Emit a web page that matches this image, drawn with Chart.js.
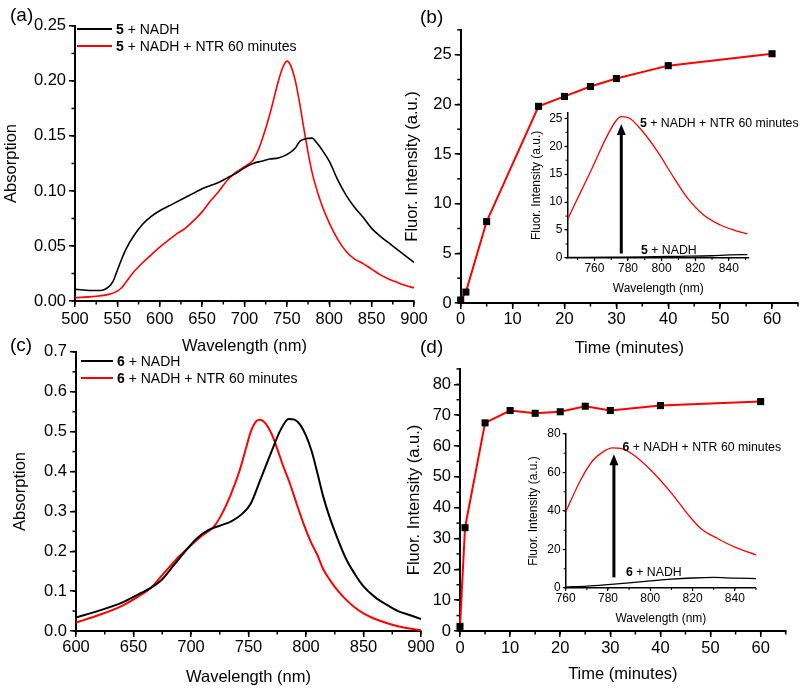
<!DOCTYPE html>
<html>
<head>
<meta charset="utf-8">
<script src="https://cdn.jsdelivr.net/npm/chart.js@4.4.0/dist/chart.umd.min.js"></script>
<style>
  body { margin: 0; background: #fff; }
  #fig { position: relative; width: 804px; height: 689px; overflow: hidden;
         font-family: 'Liberation Sans', Arial, sans-serif; color: #000; }
  #fig canvas { position: absolute; }
  .txt { position: absolute; white-space: nowrap; line-height: 1; }
  .ln { position: absolute; height: 0; border-top: 2px solid; }
</style>
</head>
<body>
<div id="fig"></div>
<script>
// --- DATA ---
// (a) absorption of 5
const wlA5 = [500, 510, 520, 530, 540, 545, 550, 555, 560, 570, 580, 590, 600, 615, 630, 640, 650, 660, 670, 680, 690, 700, 710, 720, 730, 740, 750, 760, 765, 770, 780, 785, 790, 800, 810, 820, 830, 840, 850, 860, 870, 880, 890, 900];
const absA5 = [0.0106, 0.010, 0.0095, 0.0095, 0.013, 0.018, 0.028, 0.038, 0.047, 0.060, 0.070, 0.077, 0.082, 0.088, 0.094, 0.098, 0.102, 0.105, 0.108, 0.112, 0.116, 0.121, 0.125, 0.127, 0.129, 0.130, 0.133, 0.139, 0.145, 0.147, 0.148, 0.144, 0.139, 0.127, 0.110, 0.096, 0.085, 0.076, 0.066, 0.059, 0.053, 0.047, 0.041, 0.035];
const wlA5ntr = [500, 520, 540, 550, 555, 560, 570, 580, 590, 600, 610, 620, 630, 640, 650, 660, 670, 680, 690, 700, 710, 715, 720, 730, 740, 745, 750, 755, 760, 765, 770, 775, 780, 790, 800, 810, 820, 830, 840, 850, 860, 870, 880, 890, 900];
const absA5ntr = [0.003, 0.004, 0.006, 0.009, 0.012, 0.017, 0.027, 0.035, 0.042, 0.049, 0.055, 0.061, 0.066, 0.073, 0.081, 0.091, 0.100, 0.110, 0.117, 0.122, 0.128, 0.135, 0.145, 0.170, 0.200, 0.212, 0.218, 0.213, 0.200, 0.180, 0.157, 0.135, 0.116, 0.090, 0.071, 0.056, 0.045, 0.038, 0.034, 0.029, 0.024, 0.020, 0.017, 0.014, 0.012];

// (b) fluorescence of 5 vs time
const timeB = [0, 1, 5, 15, 20, 25, 30, 40, 60];
const fluorB = [0.3, 1.1, 8.2, 19.8, 20.8, 21.8, 22.6, 23.9, 25.1];
// (b) inset spectra
const wlB5ntr = [744, 751, 759, 767, 773, 776, 781, 788, 797, 807, 815, 825, 835, 843, 851];
const emB5ntr = [6.9, 11.3, 16.3, 21.5, 24.6, 25.3, 25.0, 22.9, 19.3, 14.5, 10.9, 7.7, 5.9, 5.0, 4.3];
const wlB5 = [744, 770, 790, 810, 830, 840, 851];
const emB5 = [0.1, 0.15, 0.2, 0.3, 0.4, 0.55, 0.6];

// (c) absorption of 6
const wlC6 = [600, 620, 640, 655, 665, 675, 685, 695, 705, 715, 725, 735, 745, 752, 760, 770, 778, 785, 790, 795, 800, 805, 810, 815, 820, 827, 835, 842, 850, 860, 870, 880, 890, 900];
const absC6 = [0.034, 0.051, 0.071, 0.093, 0.108, 0.130, 0.165, 0.200, 0.232, 0.253, 0.264, 0.275, 0.295, 0.320, 0.377, 0.450, 0.505, 0.532, 0.530, 0.517, 0.490, 0.450, 0.395, 0.337, 0.290, 0.235, 0.180, 0.145, 0.112, 0.085, 0.066, 0.050, 0.040, 0.030];
const wlC6ntr = [600, 620, 640, 655, 665, 675, 690, 700, 710, 720, 728, 735, 742, 748, 752, 757, 760, 765, 770, 775, 780, 786, 792, 798, 804, 810, 815, 821, 828, 835, 842, 850, 860, 870, 880, 890, 900];
const absC6ntr = [0.021, 0.040, 0.063, 0.088, 0.108, 0.140, 0.188, 0.215, 0.240, 0.262, 0.300, 0.345, 0.400, 0.460, 0.500, 0.527, 0.530, 0.520, 0.495, 0.457, 0.415, 0.370, 0.318, 0.268, 0.225, 0.190, 0.155, 0.127, 0.100, 0.078, 0.060, 0.044, 0.030, 0.020, 0.012, 0.006, 0.002];

// (d) fluorescence of 6 vs time
const timeD = [0, 1, 5, 10, 15, 20, 25, 30, 40, 60];
const fluorD = [1.5, 33.5, 67.5, 71.5, 70.6, 71.1, 72.9, 71.5, 73.1, 74.4];
// (d) inset spectra
const wlD6ntr = [760, 767, 773, 778, 782, 786, 792, 801, 810, 818, 824, 832, 840, 850];
const emD6ntr = [39.5, 56, 66.5, 71, 72.8, 72.5, 69.2, 60.4, 49.3, 38, 30.8, 25.6, 21.2, 17.2];
const wlD6 = [760, 770, 780, 790, 800, 810, 820, 830, 840, 850];
const emD6 = [0.5, 1.0, 1.8, 2.7, 3.7, 4.6, 5.2, 5.5, 5.1, 4.9];

const RED = '#ff0000';
const fig = document.getElementById('fig');
Chart.defaults.font.family = "'Liberation Sans', Arial, sans-serif";
Chart.defaults.color = '#000';

function pts(xs, ys) { return xs.map((x, i) => ({ x: x, y: ys[i] })); }

// short unlabelled ticks between the major ones
const minorTicks = {
  id: 'minorTicks',
  afterDraw(chart, args, o) {
    const { ctx, chartArea: a } = chart;
    ctx.save();
    ctx.strokeStyle = '#000';
    ctx.lineWidth = o.lw || 1.5;
    ['x', 'y'].forEach(id => {
      const step = o[id];
      if (!step) return;
      const s = chart.scales[id];
      const n = Math.floor((s.max - s.min) / step + 1e-6);
      const start = Math.ceil(s.min / step - 1e-6) * step;
      for (let i = 0; i <= n; i++) {
        const v = start + i * step;
        if (v > s.max + 1e-9) break;
        const p = s.getPixelForValue(v);
        ctx.beginPath();
        if (id === 'x') { ctx.moveTo(p, a.bottom); ctx.lineTo(p, a.bottom + o.len); }
        else { ctx.moveTo(a.left, p); ctx.lineTo(a.left - o.len, p); }
        ctx.stroke();
      }
    });
    ctx.restore();
  }
};

// vertical arrow inside the insets
const arrow = {
  id: 'arrow',
  afterDatasetsDraw(chart, args, o) {
    if (o.x == null) return;
    const ctx = chart.ctx;
    const x = chart.scales.x.getPixelForValue(o.x);
    const y0 = chart.scales.y.getPixelForValue(o.from);
    const y1 = chart.scales.y.getPixelForValue(o.to);
    ctx.save();
    ctx.strokeStyle = '#000';
    ctx.fillStyle = '#000';
    ctx.lineWidth = 3;
    ctx.beginPath();
    ctx.moveTo(x, y0);
    ctx.lineTo(x, y1 + 9);
    ctx.stroke();
    ctx.beginPath();
    ctx.moveTo(x, y1);
    ctx.lineTo(x - 4.5, y1 + 11);
    ctx.lineTo(x + 4.5, y1 + 11);
    ctx.closePath();
    ctx.fill();
    ctx.restore();
  }
};

// g: canvas box + wanted plot area; the axis sizes are forced so the plot area lands where it should
function makeChart(g, datasets, sx, sy, extra) {
  const cv = document.createElement('canvas');
  cv.width = g.w; cv.height = g.h;
  cv.style.left = g.l + 'px'; cv.style.top = g.t + 'px';
  fig.appendChild(cv);
  const fs = g.fs;
  const tickFont = { size: fs };
  const axis = (s, isX) => ({
    type: 'linear',
    min: s.min, max: s.max,
    border: { display: true, color: '#000', width: g.bw },
    grid: { drawOnChartArea: false, drawTicks: true, tickLength: g.tl, color: '#000', lineWidth: g.bw * 0.75 },
    ticks: {
      stepSize: s.step, autoSkip: false, maxRotation: 0, includeBounds: false,
      padding: isX ? g.xtp : g.ytp, font: tickFont,
      callback: v => v.toFixed(s.dec || 0)
    },
    title: {
      display: true, text: s.title, font: { size: fs },
      padding: isX ? { top: 0, bottom: g.xtb } : { top: g.ytt, bottom: 0 }
    },
    afterFit: isX ? (sc => { sc.height = g.t + g.h - g.B; }) : (sc => { sc.width = g.L - g.l; })
  });
  return new Chart(cv, {
    type: 'line',
    data: { datasets: datasets },
    options: {
      responsive: false,
      animation: false,
      layout: { padding: { top: g.T - g.t, right: g.l + g.w - g.R, left: 0, bottom: 0 } },
      scales: { x: axis(sx, true), y: axis(sy, false) },
      plugins: Object.assign({ legend: { display: false }, tooltip: { enabled: false } }, extra)
    },
    plugins: [minorTicks, arrow]
  });
}

function spec(xs, ys, color, w) {
  return { data: pts(xs, ys), borderColor: color, borderWidth: w, pointRadius: 0,
           cubicInterpolationMode: 'monotone', fill: false };
}
function kin(xs, ys) {
  return { data: pts(xs, ys), borderColor: RED, borderWidth: 2, tension: 0, clip: false,
           pointStyle: 'rect', pointRadius: 5, pointBackgroundColor: '#000', pointBorderColor: '#000', pointBorderWidth: 0 };
}

const mainG = { fs: 16.5, bw: 2, tl: 6, xtp: 1, ytp: 3, xtb: 0 };
const insG = { fs: 12, bw: 1.5, tl: 3, xtp: 0, ytp: 2, xtb: 0 };

// (a)
makeChart(Object.assign({}, mainG, { l: 0, t: 13, w: 434, h: 343, L: 75, R: 414, T: 25, B: 301, ytt: 2, xtp: 3 }),
  [spec(wlA5, absA5, '#000', 1.6), spec(wlA5ntr, absA5ntr, RED, 1.6)],
  { min: 500, max: 900, step: 50, title: 'Wavelength (nm)' },
  { min: 0, max: 0.25, step: 0.05, dec: 2, title: 'Absorption' },
  { minorTicks: { x: 25, y: 0.025, len: 3.5 } });

// (b)
makeChart(Object.assign({}, mainG, { l: 403, t: 17, w: 401, h: 341, L: 460.7, R: 798, T: 29, B: 303, ytt: 0 }),
  [kin(timeB, fluorB)],
  { min: 0, max: 65, step: 10, title: 'Time (minutes)' },
  { min: 0, max: 27.5, step: 5, title: 'Fluor. Intensity (a.u.)' },
  { minorTicks: { x: 5, y: 2.5, len: 3.5 } });

// (b) inset
makeChart(Object.assign({}, insG, { l: 529, t: 102, w: 232, h: 194, L: 567.5, R: 749, T: 112.7, B: 258, ytt: 0.5 }),
  [spec(wlB5, emB5, '#000', 1.3), spec(wlB5ntr, emB5ntr, RED, 1.3)],
  { min: 744, max: 852, step: 20, title: 'Wavelength (nm)' },
  { min: 0, max: 26, step: 5, title: 'Fluor. Intensity (a.u.)' },
  { minorTicks: { x: 10, y: 2.5, len: 2, lw: 1 }, arrow: { x: 776, from: 0.8, to: 24.0 } });

// (c)
makeChart(Object.assign({}, mainG, { l: 0, t: 339, w: 441, h: 348, L: 76, R: 421, T: 350.7, B: 631, ytt: 10.8 }),
  [spec(wlC6, absC6, '#000', 2), spec(wlC6ntr, absC6ntr, RED, 2)],
  { min: 600, max: 900, step: 50, title: 'Wavelength (nm)' },
  { min: 0, max: 0.7, step: 0.1, dec: 1, title: 'Absorption' },
  { minorTicks: { x: 25, y: 0.05, len: 3.5 } });

// (d)
makeChart(Object.assign({}, mainG, { l: 405, t: 356, w: 399, h: 329, L: 460, R: 785.7, T: 368.3, B: 631, ytt: 0, xtb: 1, xtp: 2 }),
  [kin(timeD, fluorD)],
  { min: 0, max: 65, step: 10, title: 'Time (minutes)' },
  { min: 0, max: 85, step: 10, title: 'Fluor. Intensity (a.u.)' },
  { minorTicks: { x: 5, y: 5, len: 3.5 } });

// (d) inset
makeChart(Object.assign({}, insG, { l: 526, t: 424, w: 242, h: 202, L: 565.7, R: 756, T: 434, B: 588, ytt: 0.1 }),
  [spec(wlD6, emD6, '#000', 1.3), spec(wlD6ntr, emD6ntr, RED, 1.3)],
  { min: 760, max: 850, step: 20, title: 'Wavelength (nm)' },
  { min: 0, max: 80, step: 20, title: 'Fluor. Intensity (a.u.)' },
  { minorTicks: { x: 10, y: 10, len: 2, lw: 1 }, arrow: { x: 782.8, from: 5.5, to: 69.5 } });

// --- TEXT OVERLAYS: panel letters, legends, inset notes ---
function txt(html, left, cy, size) {
  const d = document.createElement('div');
  d.className = 'txt';
  d.style.left = left + 'px';
  d.style.top = (cy - size / 2) + 'px';
  d.style.fontSize = size + 'px';
  d.innerHTML = html;
  fig.appendChild(d);
}
function legLine(x0, x1, cy, color) {
  const d = document.createElement('div');
  d.className = 'ln';
  d.style.left = x0 + 'px';
  d.style.width = (x1 - x0) + 'px';
  d.style.top = (cy - 1) + 'px';
  d.style.borderColor = color;
  fig.appendChild(d);
}

txt('(a)', 10, 14, 19);
txt('(b)', 420, 16, 19);
txt('(c)', 10, 344, 19);
txt('(d)', 420, 346, 19);

legLine(77, 112, 29.3, '#000'); txt('<b>5</b> + NADH', 116, 29.3, 14);
legLine(77, 112, 46, RED); txt('<b>5</b> + NADH + NTR 60 minutes', 116, 46, 14);
legLine(81, 113, 360.7, '#000'); txt('<b>6</b> + NADH', 117, 360.7, 14);
legLine(81, 113, 378.3, RED); txt('<b>6</b> + NADH + NTR 60 minutes', 117, 378.3, 14);

txt('<b>5</b> + NADH + NTR 60 minutes', 640, 123.5, 12.3);
txt('<b>5</b> + NADH', 641, 250, 12.3);
txt('<b>6</b> + NADH + NTR 60 minutes', 622.5, 447, 12.3);
txt('<b>6</b> + NADH', 626, 572.5, 12.3);
</script>
</body>
</html>
